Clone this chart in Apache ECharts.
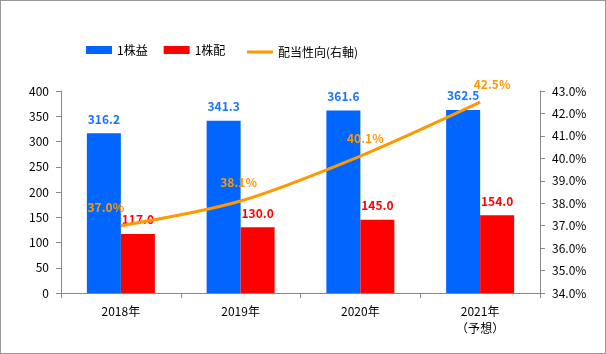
<!DOCTYPE html>
<html><head><meta charset="utf-8">
<script src="https://cdn.jsdelivr.net/npm/echarts@6/dist/echarts.min.js"></script>
<style>html,body{margin:0;padding:0;background:#fff}#c{width:604px;height:352px;border:1px solid #999;}</style>
</head><body><div id="c"></div>
<script>
const categories = ['2018年', '2019年', '2020年', '2021年\n（予想）'];
const eps = [316.2, 341.3, 361.6, 362.5];
const dps = [117.0, 130.0, 145.0, 154.0];
const payout = [37.0, 38.1, 40.1, 42.5];
const leftTicks = [0, 400, 50];
const rightTicks = [34, 43, 1];

const font = '"Noto Sans CJK JP", "DejaVu Sans", sans-serif';
const lineLabelShift = [-15, -2, 5, 12];
const chart = echarts.init(document.getElementById('c'));
chart.setOption({
  animation: false,
  textStyle: {fontFamily: font},
  legend: [{
    top: 38, left: 80, itemGap: 16, itemWidth: 26, itemHeight: 8,
    textStyle: {fontSize: 12, color: '#000', fontFamily: font},
    data: [
      {name: '1株益', icon: 'rect'},
      {name: '1株配', icon: 'rect'}
    ]
  }, {
    top: 40, left: 241, itemWidth: 26, itemHeight: 3,
    textStyle: {fontSize: 12, color: '#000', fontFamily: font},
    data: [{name: '配当性向(右軸)', icon: 'rect', itemStyle: {color: '#ff9900'}}]
  }],
  grid: {left: 60, right: 65, top: 90, bottom: 60},
  xAxis: {
    type: 'category', data: categories,
    axisLine: {lineStyle: {color: '#888'}},
    axisTick: {show: true, alignWithLabel: false, length: 5, lineStyle: {color: '#888'}},
    axisLabel: {color: '#000', fontSize: 12, margin: 10, lineHeight: 17, fontFamily: font}
  },
  yAxis: [
    {type: 'value', min: leftTicks[0], max: leftTicks[1], interval: leftTicks[2],
     splitLine: {show: false},
     axisLine: {show: true, lineStyle: {color: '#888'}},
     axisTick: {show: true, inside: false, length: 5, lineStyle: {color: '#888'}},
     axisLabel: {color: '#000', fontSize: 12, margin: 12, fontFamily: font}},
    {type: 'value', min: rightTicks[0], max: rightTicks[1], interval: rightTicks[2],
     splitLine: {show: false},
     axisLine: {show: true, lineStyle: {color: '#888'}},
     axisTick: {show: true, length: 5, lineStyle: {color: '#888'}},
     axisLabel: {color: '#000', fontSize: 12, margin: 12, fontFamily: font,
       formatter: v => v.toFixed(1) + '%'}}
  ],
  series: [
    {name: '1株益', type: 'bar', data: eps, barWidth: 34, barGap: '0%',
     itemStyle: {color: '#0066ff'},
     label: {show: true, position: 'top', distance: 8, color: '#1a75ff', fontWeight: 'bold', fontSize: 12,
       fontFamily: font, formatter: p => p.value.toFixed(1)}},
    {name: '1株配', type: 'bar', data: dps, barWidth: 34,
     itemStyle: {color: '#ff0000'},
     label: {show: true, position: 'top', distance: 8, color: '#ff0000', fontWeight: 'bold', fontSize: 12,
       fontFamily: font, formatter: p => p.value.toFixed(1)}},
    {name: '配当性向(右軸)', type: 'line', yAxisIndex: 1, data: payout, smooth: 0.3,
     symbol: 'circle', symbolSize: 0.1, showSymbol: true,
     lineStyle: {color: '#ff9900', width: 3}, itemStyle: {color: '#ff9900'},
     z: 5,
     labelLayout: p => ({dx: lineLabelShift[p.dataIndex] || 0}),
     label: {show: true, position: 'top', distance: 12, color: '#ff9900', fontWeight: 'bold', fontSize: 12,
       fontFamily: font, formatter: p => p.value.toFixed(1) + '%'}}
  ]
});
</script></body></html>
